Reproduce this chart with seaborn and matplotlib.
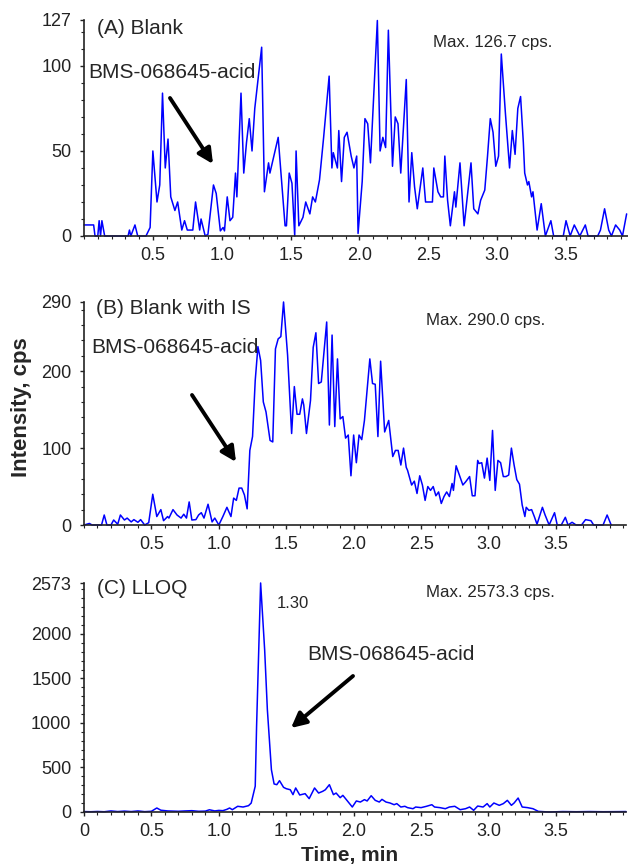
import numpy as np
import pandas as pd
import seaborn as sns
import matplotlib.pyplot as plt
from matplotlib.ticker import MultipleLocator, FixedLocator

sns.set_style("ticks")
plt.rcParams['font.family'] = ['Liberation Sans', 'DejaVu Sans']

# (A) Blank
t_a = [0.00, 0.07, 0.08, 0.10, 0.11, 0.12, 0.13, 0.15, 0.32, 0.33, 0.34, 0.37, 0.39, 0.45, 0.48,
       0.50, 0.53, 0.55, 0.57, 0.59, 0.61, 0.63, 0.66, 0.68, 0.71, 0.73, 0.75, 0.79, 0.81, 0.84,
       0.85, 0.88, 0.90, 0.94, 0.96, 0.99, 1.01, 1.02, 1.04, 1.06, 1.08, 1.10, 1.11, 1.14, 1.16,
       1.18, 1.20, 1.22, 1.24, 1.29, 1.31, 1.34, 1.35, 1.41, 1.46, 1.47, 1.49, 1.51, 1.53, 1.54,
       1.56, 1.59, 1.61, 1.64, 1.66, 1.68, 1.71, 1.74, 1.78, 1.80, 1.81, 1.84, 1.85, 1.87, 1.89,
       1.91, 1.94, 1.96, 1.98, 1.99, 2.02, 2.04, 2.06, 2.08, 2.13, 2.15, 2.17, 2.19, 2.21, 2.24,
       2.26, 2.28, 2.30, 2.34, 2.36, 2.38, 2.40, 2.42, 2.46, 2.48, 2.53, 2.54, 2.57, 2.59, 2.61,
       2.62, 2.64, 2.66, 2.69, 2.70, 2.73, 2.76, 2.81, 2.83, 2.86, 2.88, 2.91, 2.93, 2.95, 2.97,
       2.99, 3.01, 3.03, 3.06, 3.09, 3.11, 3.13, 3.15, 3.17, 3.19, 3.20, 3.22, 3.23, 3.25, 3.26,
       3.29, 3.32, 3.35, 3.39, 3.41, 3.48, 3.50, 3.53, 3.56, 3.60, 3.64, 3.66, 3.73, 3.75, 3.78,
       3.81, 3.83, 3.86, 3.89, 3.91, 3.94]
cps_a = [6.5, 6.5, 0, 0, 9, 0, 9, 0, 0, 3.5, 0, 6.5, 0, 0, 5,
         50, 20, 30, 84, 40, 57, 23, 15, 20, 3.5, 9, 3.5, 3.5, 20, 3.5,
         10, 0, 1, 30, 25, 3, 5, 3, 23, 9, 11, 37, 23, 84, 37,
         55, 69, 50, 75, 111, 26, 43, 37, 58, 6, 6, 37, 31, 0, 50,
         6, 11, 20, 13, 23, 20, 33, 58, 94, 40, 49, 40, 62, 32, 58,
         61, 47, 40, 47, 1.5, 32, 69, 66, 43, 126.7, 50, 58, 52, 121, 41,
         70, 66, 37, 92, 20, 49, 29, 16, 40, 20, 20, 40, 26, 23, 23,
         47, 21, 6, 26, 17, 43, 6, 43, 16, 13, 21, 27, 47, 69, 61,
         41, 47, 107, 72, 40, 62, 48, 75, 82, 55, 37, 30, 32, 23, 26,
         3.5, 19, 0, 9, 0, 0, 9, 0, 6.5, 0, 6.5, 0, 0, 3.5, 16,
         3.5, 0, 6.5, 3.5, 0, 13]

# (B) Blank with IS
t_b = [0.00, 0.04, 0.06, 0.13, 0.15, 0.17, 0.20, 0.22, 0.25, 0.27, 0.30, 0.32, 0.35, 0.37, 0.40,
       0.42, 0.45, 0.48, 0.51, 0.54, 0.57, 0.59, 0.62, 0.63, 0.66, 0.69, 0.72, 0.74, 0.76, 0.78,
       0.80, 0.83, 0.85, 0.87, 0.89, 0.92, 0.95, 0.97, 1.00, 1.03, 1.06, 1.09, 1.11, 1.13, 1.15,
       1.17, 1.19, 1.21, 1.23, 1.25, 1.27, 1.29, 1.31, 1.33, 1.35, 1.38, 1.40, 1.42, 1.44, 1.46,
       1.48, 1.51, 1.54, 1.56, 1.58, 1.60, 1.62, 1.63, 1.65, 1.68, 1.70, 1.72, 1.74, 1.76, 1.80,
       1.82, 1.84, 1.86, 1.88, 1.90, 1.92, 1.94, 1.96, 1.98, 2.00, 2.02, 2.04, 2.06, 2.08, 2.12,
       2.14, 2.16, 2.18, 2.20, 2.23, 2.26, 2.29, 2.31, 2.33, 2.35, 2.37, 2.39, 2.40, 2.43, 2.45,
       2.47, 2.49, 2.51, 2.53, 2.55, 2.57, 2.59, 2.61, 2.63, 2.65, 2.67, 2.69, 2.71, 2.73, 2.74,
       2.76, 2.79, 2.81, 2.83, 2.86, 2.88, 2.90, 2.92, 2.93, 2.95, 2.97, 2.99, 3.01, 3.03, 3.05,
       3.07, 3.09, 3.11, 3.13, 3.15, 3.17, 3.19, 3.21, 3.23, 3.25, 3.27, 3.28, 3.30, 3.32, 3.34,
       3.36, 3.40, 3.42, 3.45, 3.49, 3.51, 3.54, 3.57, 3.59, 3.62, 3.65, 3.69, 3.72, 3.76, 3.78,
       3.85, 3.88, 3.91]
cps_b = [0, 2, 0, 0, 13, 0, 0, 6.5, 1, 13, 6.5, 9, 4, 7, 3.5,
         7, 0, 3, 40, 11, 20, 5.6, 11, 9, 20, 13, 9, 14, 9, 30,
         6.5, 7, 13, 16, 9, 27, 4, 9, 0, 11, 23, 11, 35, 32, 48,
         48, 39, 21, 97, 115, 188, 232, 214, 160, 147, 110, 108, 229, 242, 245,
         290, 221, 119, 180, 144, 144, 164, 156, 119, 162, 231, 250, 184, 186, 264,
         130, 247, 128, 216, 138, 141, 113, 117, 64, 117, 81, 117, 111, 136, 216,
         184, 183, 115, 213, 121, 136, 89, 97, 97, 78, 100, 75, 71, 52, 57,
         41, 64, 52, 32, 50, 45, 50, 38, 43, 28, 37, 43, 37, 54, 45,
         77, 62, 52, 56, 63, 38, 38, 84, 80, 81, 61, 87, 58, 123, 45,
         84, 81, 63, 63, 65, 100, 78, 59, 53, 26, 11, 23, 19, 20, 11,
         1, 23, 13, 0, 16, 0, 0, 10, 0, 3.5, 0, 0, 7, 5.6, 0,
         0, 13, 0]

# (C) LLOQ
t_c = [0.00, 0.05, 0.10, 0.15, 0.20, 0.25, 0.30, 0.35, 0.40, 0.45, 0.50, 0.54, 0.57, 0.62, 0.70,
       0.75, 0.80, 0.85, 0.90, 0.93, 0.97, 1.00, 1.03, 1.06, 1.08, 1.10, 1.14, 1.18, 1.22, 1.24,
       1.27, 1.28, 1.31, 1.34, 1.36, 1.39, 1.41, 1.43, 1.45, 1.48, 1.50, 1.53, 1.55, 1.57, 1.60,
       1.64, 1.67, 1.71, 1.74, 1.77, 1.79, 1.82, 1.85, 1.87, 1.90, 1.92, 1.95, 1.99, 2.02, 2.05,
       2.08, 2.10, 2.13, 2.16, 2.19, 2.21, 2.24, 2.27, 2.30, 2.32, 2.35, 2.38, 2.40, 2.44, 2.46,
       2.50, 2.54, 2.58, 2.60, 2.64, 2.68, 2.71, 2.75, 2.79, 2.83, 2.86, 2.89, 2.92, 2.96, 2.99,
       3.01, 3.04, 3.08, 3.11, 3.14, 3.17, 3.19, 3.22, 3.25, 3.29, 3.33, 3.37, 3.45, 3.55, 3.65,
       3.75, 3.85, 3.95, 4.02]
cps_c = [5, 3, 6, 3, 12, 5, 10, 5, 12, 4, 8, 45, 20, 12, 8,
         12, 15, 8, 10, 25, 12, 18, 15, 30, 45, 26, 64, 56, 71, 100,
         290, 960, 2573.3, 1820, 1150, 475, 315, 307, 352, 277, 262, 250, 195, 270, 191,
         206, 150, 270, 213, 232, 250, 307, 195, 213, 161, 187, 131, 56, 124, 112,
         139, 124, 183, 131, 112, 142, 112, 101, 82, 94, 56, 64, 49, 37, 56,
         49, 64, 82, 56, 49, 37, 56, 64, 26, 37, 56, 19, 67, 56, 94,
         56, 101, 75, 94, 131, 75, 101, 157, 56, 49, 37, 7, 0, 5, 3,
         5, 3, 4, 5]

titles = ["(A) Blank", "(B) Blank with IS", "(C) LLOQ"]
max_labels = ["Max. 126.7 cps.", "Max. 290.0 cps.", "Max. 2573.3 cps."]
y_ticks = [[0, 50, 100, 127], [0, 100, 200, 290], [0, 500, 1000, 1500, 2000, 2573]]
y_minor = [10, 20, 100]
x_ticks = [0.5, 1.0, 1.5, 2.0, 2.5, 3.0, 3.5]

W, H = 628, 867


def fp(x, y):
    # pixel position in the picture -> figure fraction
    return (x / W, 1 - y / H)


fig = plt.figure(figsize=(W / 100, H / 100), dpi=100)

# axes boxes in pixels: left, right, top, bottom
boxes = [(84, 628, 20, 236), (84, 626, 302, 525), (84, 626, 583, 812)]
xmax = [3.95, 4.02, 4.02]
series = [(t_a, cps_a), (t_b, cps_b), (t_c, cps_c)]

axes = []
for i, (l, r, tp, b) in enumerate(boxes):
    ax = fig.add_axes([l / W, 1 - b / H, (r - l) / W, (b - tp) / H])
    df = pd.DataFrame({"time": series[i][0], "cps": series[i][1]})
    sns.lineplot(data=df, x="time", y="cps", ax=ax, color="#0000ff", linewidth=1.1,
                 estimator=None, sort=False, clip_on=False)
    ax.set_xlim(0, xmax[i])
    ax.set_ylim(0, y_ticks[i][-1])
    ax.set_xlabel("")
    ax.set_ylabel("")
    sns.despine(ax=ax)
    for s in ["left", "bottom"]:
        ax.spines[s].set_linewidth(1.2)
        ax.spines[s].set_color("#222222")
    ax.yaxis.set_major_locator(FixedLocator(y_ticks[i]))
    ax.yaxis.set_minor_locator(MultipleLocator(y_minor[i]))
    if i == 2:
        xt = [0.0] + x_ticks
        ax.set_xticks(xt)
        ax.set_xticklabels(["0"] + ["%.1f" % v for v in x_ticks])
    else:
        ax.set_xticks(x_ticks)
        ax.set_xticklabels(["%.1f" % v for v in x_ticks])
    ax.xaxis.set_minor_locator(MultipleLocator(0.1))
    ax.tick_params(axis="both", which="major", direction="out", length=3, width=1,
                   labelsize=13, colors="#222222", pad=6)
    ax.tick_params(axis="both", which="minor", direction="out", length=2, width=0.8,
                   colors="#222222")
    ax.tick_params(axis="x", which="major", pad=5)
    axes.append(ax)

# panel texts
fig.text(*fp(97, 29), titles[0], fontsize=15, va="center", ha="left")
fig.text(*fp(96, 308), titles[1], fontsize=15, va="center", ha="left")
fig.text(*fp(97, 588), titles[2], fontsize=15, va="center", ha="left")

fig.text(*fp(433, 42), max_labels[0], fontsize=12.2, va="center", ha="left")
fig.text(*fp(426, 320), max_labels[1], fontsize=12.2, va="center", ha="left")
fig.text(*fp(426, 592), max_labels[2], fontsize=12.2, va="center", ha="left")

fig.text(*fp(88, 72), "BMS-068645-acid", fontsize=15, va="center", ha="left")
fig.text(*fp(91, 348), "BMS-068645-acid", fontsize=15, va="center", ha="left")
fig.text(*fp(307, 655), "BMS-068645-acid", fontsize=15, va="center", ha="left")
fig.text(*fp(277, 603), "1.30", fontsize=12, va="center", ha="left")

arrow_style = dict(arrowstyle="-|>,head_length=0.9,head_width=0.45", color="black",
                   lw=2.8, shrinkA=0, shrinkB=0)
for start, end in [((170, 98), (213, 164)), ((192, 395), (236, 462)), ((353, 676), (291, 728))]:
    fig.add_artist(plt.matplotlib.patches.FancyArrowPatch(
        fp(*start), fp(*end), transform=fig.transFigure, mutation_scale=10,
        **arrow_style))

fig.text(*fp(22, 407), "Intensity, cps", fontsize=16, fontweight="bold", rotation=90,
         va="center", ha="center")
fig.text(*fp(350, 855), "Time, min", fontsize=15, fontweight="bold", va="center", ha="center")

fig.savefig("out.png", dpi=100)
